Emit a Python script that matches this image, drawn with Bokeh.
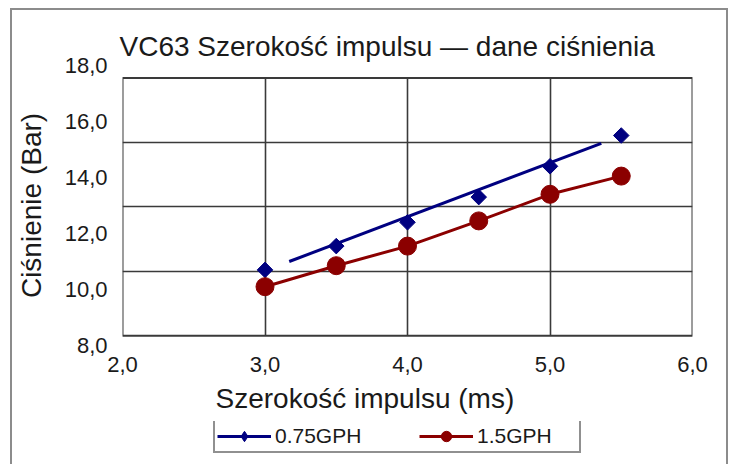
from bokeh.plotting import figure
from bokeh.layouts import column
from bokeh.models import FixedTicker, BoxAnnotation, Legend, LegendItem, Range1d, Title
from bokeh.embed import file_html
from bokeh.resources import INLINE

# ---- data ----
pulse_ms = [3.0, 3.5, 4.0, 4.5, 5.0, 5.5]
pressure_075gph = [10.7, 11.55, 12.4, 13.3, 14.4, 15.5]
pressure_15gph = [10.1, 10.85, 11.55, 12.45, 13.4, 14.05]
trend_ms = [3.17, 5.36]
trend_075gph = [11.0, 15.22]
series_names = ["0.75GPH", "1.5GPH"]
x_ticks = [2.0, 3.0, 4.0, 5.0, 6.0]
y_ticks = [8.0, 10.0, 12.0, 14.0, 16.0, 18.0]
box_y = [8.35, 17.55]
grid_x = [3.0, 4.0, 5.0]
grid_y = [10.65, 12.95, 15.25]

FONT = "Liberation Sans"
BLUE = "#000080"
RED = "#8B0000"
INK = "#1a1a1a"
GRID = "#3a3a3a"
W = 714

p = figure(width=W, height=411, output_backend="svg", toolbar_location=None,
           x_range=Range1d(x_ticks[0], x_ticks[-1]), y_range=Range1d(y_ticks[0], y_ticks[-1]),
           min_border_left=110, min_border_right=34, min_border_top=55, min_border_bottom=76,
           background_fill_color="white", border_fill_color="white")
p.outline_line_color = None

p.title.text = "VC63 Szerokość impulsu — dane ciśnienia"
p.title.text_font = FONT
p.title.text_font_size = "28px"
p.title.text_font_style = "normal"
p.title.text_color = INK
p.title.align = "left"
p.title.offset = -3
p.title.standoff = 8

# plot box
p.add_layout(BoxAnnotation(left=x_ticks[0], right=x_ticks[-1], bottom=box_y[0], top=box_y[1],
                           fill_color=None, fill_alpha=0, line_color=GRID, line_alpha=1,
                           line_width=2))

# grids
p.ygrid.ticker = FixedTicker(ticks=grid_y)
p.ygrid.grid_line_color = GRID
p.ygrid.grid_line_width = 1.6
p.xgrid.ticker = FixedTicker(ticks=grid_x)
p.xgrid.grid_line_color = GRID
p.xgrid.grid_line_width = 1.6
if hasattr(p.xgrid[0], "cross_bounds"):
    p.xgrid.cross_bounds = (box_y[0], box_y[1])
else:
    p.xgrid.visible = False
    p.segment(x0=grid_x, x1=grid_x, y0=[box_y[0]] * len(grid_x), y1=[box_y[1]] * len(grid_x),
              line_color=GRID, line_width=1.6)

# axes
for ax in (p.xaxis[0], p.yaxis[0]):
    ax.axis_line_color = None
    ax.major_tick_line_color = None
    ax.minor_tick_line_color = None
    ax.major_label_text_font = FONT
    ax.major_label_text_font_size = "22px"
    ax.major_label_text_color = INK
    ax.axis_label_text_font = FONT
    ax.axis_label_text_font_size = "28px"
    ax.axis_label_text_font_style = "normal"
    ax.axis_label_text_color = INK
    ax.major_tick_out = 0
    ax.major_tick_in = 0

p.xaxis.ticker = FixedTicker(ticks=x_ticks)
p.yaxis.ticker = FixedTicker(ticks=y_ticks)
p.xaxis.major_label_overrides = {t: f"{t:.1f}".replace(".", ",") for t in x_ticks}
p.yaxis.major_label_overrides = {t: f"{t:.1f}".replace(".", ",") for t in y_ticks}
p.yaxis.axis_label = "Ciśnienie (Bar)"
p.xaxis.major_label_standoff = 11
p.yaxis.major_label_standoff = 15
p.yaxis.axis_label_standoff = 15

# x-axis title, left-shifted like the reference
p.add_layout(Title(text="Szerokość impulsu (ms)", align="left", offset=93,
                   text_font=FONT, text_font_size="28px", text_font_style="normal",
                   text_color=INK, standoff=12), "below")

# series
p.line(trend_ms, trend_075gph, line_color=BLUE, line_width=3)
p.scatter(pulse_ms, pressure_075gph, marker="square", angle=0.785398, size=11,
          fill_color=BLUE, line_color=BLUE)
p.line(pulse_ms, pressure_15gph, line_color=RED, line_width=3)
p.scatter(pulse_ms, pressure_15gph, marker="circle", size=18, fill_color=RED, line_color=RED)

# legend strip (same series, drawn outside its own ranges so only the legend shows)
q = figure(width=W, height=43, output_backend="svg", toolbar_location=None,
           x_range=Range1d(0, 1), y_range=Range1d(0, 1), min_border=0,
           background_fill_color="white", border_fill_color="white")
q.outline_line_color = None
q.axis.visible = False
q.grid.visible = False
lb = q.line(trend_ms, trend_075gph, line_color=BLUE, line_width=3)
sb = q.scatter(pulse_ms, pressure_075gph, marker="diamond", size=14,
               fill_color=BLUE, line_color=BLUE)
lr = q.line(pulse_ms, pressure_15gph, line_color=RED, line_width=3)
sr = q.scatter(pulse_ms, pressure_15gph, marker="circle", size=14, fill_color=RED, line_color=RED)

legend = Legend(items=[LegendItem(label=series_names[0], renderers=[lb, sb]),
                       LegendItem(label=series_names[1], renderers=[lr, sr])],
                location=(91, 11), orientation="horizontal", margin=0,
                label_text_font=FONT, label_text_font_size="21px", label_text_color=INK,
                glyph_width=54, glyph_height=26, label_standoff=4, label_width=100,
                spacing=44, padding=2,
                border_line_color="#222222", border_line_width=2, background_fill_alpha=1)
q.add_layout(legend)

layout = column(p, q, spacing=0,
                styles={"margin-left": "12px", "margin-top": "10px",
                        "outline": "2px solid #8c8c8c"})

open("out.html", "w").write(file_html(layout, INLINE))
